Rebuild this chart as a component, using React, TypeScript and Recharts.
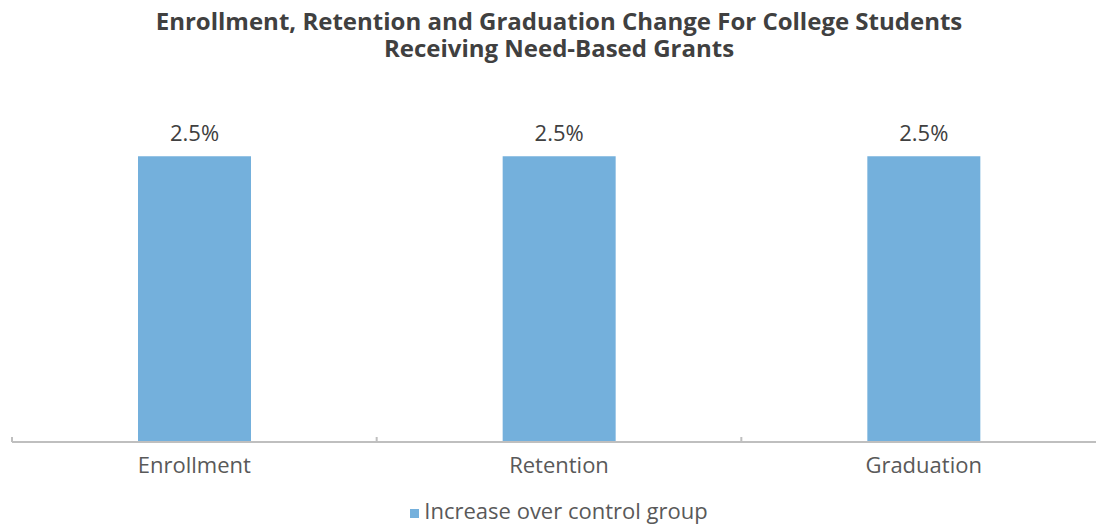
import React from "react";
import { BarChart, Bar, XAxis, YAxis, LabelList, Legend } from "recharts";

const categories = ["Enrollment", "Retention", "Graduation"];
const increaseValues = [0.025, 0.025, 0.025];
const seriesName = "Increase over control group";
const titleLines = [
  "Enrollment, Retention and Graduation Change For College Students",
  "Receiving Need-Based Grants",
];

const data = categories.map((c, i) => ({ category: c, value: increaseValues[i] }));

const FONT = "'Open Sans', sans-serif";
const BAR = "#74b0dc";
const AXIS = "#bfbfbf";

const Tick = (props: any) => {
  const { x, y, payload } = props;
  const off = payload?.offset ?? 0;
  return (
    <g>
      <line x1={x - off} x2={x - off} y1={y - 13} y2={y - 8} stroke={AXIS} strokeWidth={2} />
      <text x={x} y={y + 23} textAnchor="middle" fill="#595959" fontSize={22} fontFamily={FONT}>
        {payload.value}
      </text>
    </g>
  );
};

const LegendContent = () => (
  <div
    style={{
      height: 33,
      display: "flex",
      alignItems: "flex-end",
      justifyContent: "center",
      fontFamily: FONT,
      fontSize: 22,
      color: "#595959",
      lineHeight: "28px",
      position: "relative",
      top: -1,
    }}
  >
    <span style={{ display: "inline-block", width: 9, height: 9, background: BAR, marginRight: 5, marginBottom: 6 }} />
    <span>{seriesName}</span>
  </div>
);

export default function App() {
  return (
    <div style={{ position: "absolute", left: 0, top: 0, width: 1096, height: 525, overflow: "hidden", background: "#fff" }}>
      <div
        style={{
          position: "absolute",
          left: 0,
          top: 7,
          width: 1118,
          textAlign: "center",
          fontFamily: FONT,
          fontWeight: 700,
          fontSize: 24,
          lineHeight: "27px",
          color: "#404040",
        }}
      >
        {titleLines.map((t) => (
          <div key={t}>{t}</div>
        ))}
      </div>
      <BarChart
        width={1106}
        height={525}
        data={data}
        margin={{ top: 99, right: 0, left: 12, bottom: 0 }}
        barSize={113}
      >
        <YAxis hide domain={[0, 0.03]} />
        <XAxis
          dataKey="category"
          axisLine={{ stroke: AXIS, strokeWidth: 2 }}
          tickLine={false}
          tick={<Tick />}
          height={50}
          interval={0}
        />
        <Legend verticalAlign="bottom" content={<LegendContent />} />
        <Bar dataKey="value" name={seriesName} fill={BAR} isAnimationActive={false}>
          <LabelList
            dataKey="value"
            position="top"
            offset={15}
            formatter={(v: any) => `${(v * 100).toFixed(1)}%`}
            style={{ fill: "#404040", fontSize: 22, fontFamily: FONT }}
          />
        </Bar>
      </BarChart>
    </div>
  );
}
